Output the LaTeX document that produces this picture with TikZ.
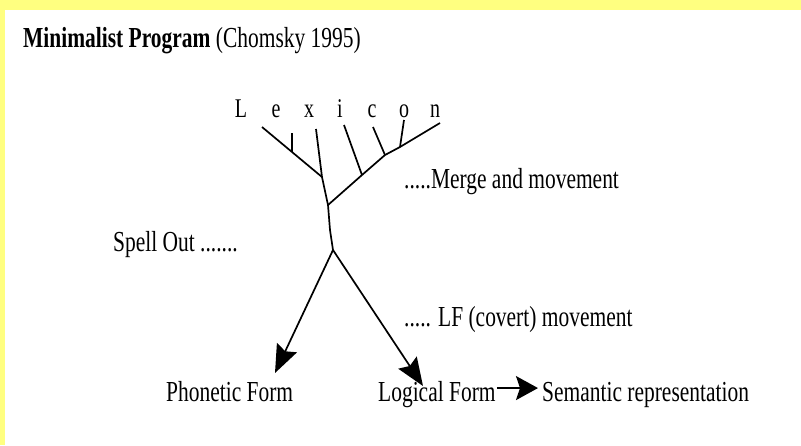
\documentclass[tikz,border=0pt]{standalone}
\usepackage{fontspec}
\setmainfont{Liberation Serif}[FakeStretch=0.74]
\usetikzlibrary{arrows.meta}
\definecolor{bandyellow}{RGB}{255,255,128}
\begin{document}
\begin{tikzpicture}[x=1pt,y=-1pt,
  txt/.style={anchor=base west,inner sep=0pt,font=\fontsize{29}{33}\selectfont},
  letter/.style={anchor=base,inner sep=0pt,font=\fontsize{27}{30}\selectfont},
  branch/.style={line width=1.7pt,line join=round},
  bigarrow/.style={line width=1.7pt,-{Stealth[length=28pt,width=22pt,inset=4pt]}}]
\useasboundingbox (0,0) rectangle (801,445);
\fill[white] (0,0) rectangle (801,445);
\fill[bandyellow] (0,0) rectangle (801,10);
\fill[bandyellow] (0,0) rectangle (5,445);

% title
\node[txt] (title) at (23,47) {\textbf{Minimalist Program} (Chomsky 1995)};

% lexicon letters
\node[letter] (L)  at (241,117) {L};
\node[letter] (e)  at (276,117) {e};
\node[letter] (x)  at (309,117) {x};
\node[letter] (i)  at (340,117) {i};
\node[letter] (c)  at (372,117) {c};
\node[letter] (o)  at (404,117) {o};
\node[letter] (n)  at (435,117) {n};

% tree coordinates
\coordinate (lb) at (262,127);
\coordinate (ej) at (292,152);
\coordinate (et) at (292,133);
\coordinate (jl) at (322,177);
\coordinate (xt) at (316,129);
\coordinate (m)  at (328,205);
\coordinate (ij) at (362,175);
\coordinate (it) at (344,125);
\coordinate (cj) at (385,155);
\coordinate (ct) at (373,127);
\coordinate (oj) at (400,147);
\coordinate (ot) at (404,120);
\coordinate (rb) at (440,123);
\coordinate (s)  at (333,250);
\coordinate (pf) at (275,373);
\coordinate (lf) at (423,386);

% tree
\draw[branch] (lb) -- (ej) -- (jl);
\draw[branch] (et) -- (ej);
\draw[branch] (xt) -- (jl) -- (m) -- (330,230) -- (s);
\draw[branch] (m) -- (ij) -- (cj) -- (oj) -- (rb);
\draw[branch] (it) -- (ij);
\draw[branch] (ct) -- (cj);
\draw[branch] (ot) -- (oj);
\draw[bigarrow] (s) -- (pf);
\draw[bigarrow] (s) -- (lf);

% labels
\node[txt] (merge) at (404,188) {.....Merge and movement};
\node[txt] (spell) at (113,251) {Spell Out .......};
\node[txt] (lfmov) at (404,326) {..... LF (covert) movement};
\node[txt] (phon)  at (166,401) {Phonetic Form};
\node[txt] (logic) at (378,401) {Logical Form};
\node[txt] (sem)   at (542,401) {Semantic representation};
\draw[line width=1.7pt,-{Stealth[length=22pt,width=24pt,inset=4pt]}] (logic.east) ++(1,-6) coordinate (la) -- ([xshift=-4pt]sem.west |- la);
\end{tikzpicture}
\end{document}
